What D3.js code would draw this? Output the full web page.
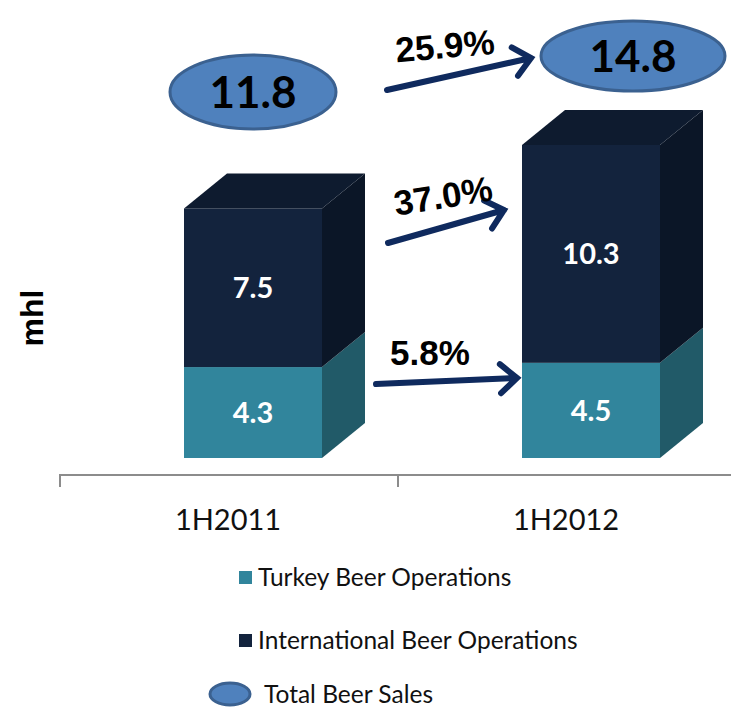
<!DOCTYPE html>
<html>
<head>
<meta charset="utf-8">
<script src="https://cdn.jsdelivr.net/npm/d3@7"></script>
<style>
  body { margin: 0; background: #fff; }
  svg { display: block; }
</style>
</head>
<body>
<div id="chart"></div>
<script>
// data
const categories = ['1H2011', '1H2012'];
const turkey = [4.3, 4.5];
const international = [7.5, 10.3];
const totals = [11.8, 14.8];
const growth = {turkey: '5.8%', international: '37.0%', total: '25.9%'};
const legendLabels = ['Turkey Beer Operations', 'International Beer Operations', 'Total Beer Sales'];

const W = 731, H = 709;
const svg = d3.select('#chart').append('svg')
  .attr('width', W)
  .attr('height', H);

const x = d3.scaleBand()
  .domain(categories)
  .range([60, 736])
  .paddingInner(0)
  .paddingOuter(0);

const y = d3.scaleLinear()
  .domain([0, 14.8])
  .range([458, 145]);

const frontW = 138;
const dx = 43, dy = -35; // 3D depth offset
const frontShift = -45;   // front face left edge relative to band centre

const colors = {
  turkey: {front: '#31859c', side: '#215a68', top: '#2a7386'},
  intl: {front: '#13233d', side: '#0b1627', top: '#0e1b2f'}
};

// axis
const axis = d3.axisBottom(x).tickSize(12).tickFormat('');
const gAxis = svg.append('g').attr('transform', 'translate(0,475)').call(axis);
gAxis.select('.domain').attr('stroke', '#8c8c8c').attr('stroke-width', 2)
  .attr('d', 'M60,12V0H736');
gAxis.selectAll('.tick line').attr('stroke', '#8c8c8c').attr('stroke-width', 2)
  .attr('transform', `translate(${-x.bandwidth() / 2},0)`);
// category labels
svg.append('g').selectAll('text')
  .data(categories)
  .join('text')
  .attr('x', d => x(d) + x.bandwidth() / 2 - 1)
  .attr('y', 530)
  .attr('text-anchor', 'middle')
  .attr('font-family', 'Lato, "Open Sans", sans-serif')
  .attr('font-size', 29)
  .attr('fill', '#111')
  .text(d => d);

// stacked 3D bars
const stack = categories.map((c, i) => ({
  cat: c,
  segs: [
    {key: 'turkey', y0: 0, y1: turkey[i], v: turkey[i]},
    {key: 'intl', y0: turkey[i], y1: turkey[i] + international[i], v: international[i]}
  ]
}));

const bars = svg.append('g').selectAll('g.bar')
  .data(stack)
  .join('g')
  .attr('class', 'bar');

bars.each(function(d) {
  const g = d3.select(this);
  const x0 = x(d.cat) + x.bandwidth() / 2 + frontShift;
  const x1 = x0 + frontW;
  d.segs.forEach((s, j) => {
    const c = colors[s.key];
    const yt = y(s.y1), yb = y(s.y0);
    // side face
    g.append('path')
      .attr('d', `M${x1},${yb}L${x1 + dx},${yb + dy}L${x1 + dx},${yt + dy}L${x1},${yt}Z`)
      .attr('fill', c.side);
    // front face
    g.append('rect')
      .attr('x', x0).attr('y', yt)
      .attr('width', frontW).attr('height', yb - yt)
      .attr('fill', c.front);
    if (j === d.segs.length - 1) {
      g.append('path')
        .attr('d', `M${x0},${yt}L${x1},${yt}L${x1 + dx},${yt + dy}L${x0 + dx},${yt + dy}Z`)
        .attr('fill', c.top);
    }
    g.append('text')
      .attr('x', x0 + frontW / 2)
      .attr('y', (yt + yb) / 2)
      .attr('dy', '0.36em')
      .attr('text-anchor', 'middle')
      .attr('font-family', 'Lato, "Open Sans", sans-serif')
      .attr('font-weight', 'bold')
      .attr('font-size', 29)
      .attr('fill', '#fff')
      .text(s.v.toFixed(1));
  });
});

// total ellipses
const ellPos = [{cx: 253, cy: 92, rx: 83, ry: 37}, {cx: 633, cy: 56, rx: 92, ry: 35}];
const ell = svg.append('g').selectAll('g')
  .data(totals)
  .join('g');
ell.append('ellipse')
  .attr('cx', (d, i) => ellPos[i].cx)
  .attr('cy', (d, i) => ellPos[i].cy)
  .attr('rx', (d, i) => ellPos[i].rx)
  .attr('ry', (d, i) => ellPos[i].ry)
  .attr('fill', '#4f81bd')
  .attr('stroke', '#3b6190')
  .attr('stroke-width', 3);
ell.append('text')
  .attr('x', (d, i) => ellPos[i].cx)
  .attr('y', (d, i) => ellPos[i].cy)
  .attr('dy', '0.36em')
  .attr('text-anchor', 'middle')
  .attr('font-family', 'Lato, "Open Sans", sans-serif')
  .attr('font-weight', 'bold')
  .attr('font-size', 44)
  .attr('fill', '#000')
  .text(d => d.toFixed(1));

// growth arrows
const arrows = [
  {label: growth.total, x1: 387, y1: 90, x2: 531, y2: 58, lx: 446, ly: 58, rot: -5},
  {label: growth.international, x1: 388, y1: 243, x2: 504, y2: 210, lx: 445, ly: 208, rot: -9},
  {label: growth.turkey, x1: 376, y1: 384, x2: 517, y2: 378, lx: 430, ly: 365, rot: 0}
];
const arrowColor = '#0f2a5e';
const ag = svg.append('g').selectAll('g')
  .data(arrows)
  .join('g');
ag.append('path')
  .attr('d', d => {
    const a = Math.atan2(d.y2 - d.y1, d.x2 - d.x1);
    const L = 22, spread = 0.72;
    const hx1 = d.x2 - L * Math.cos(a - spread), hy1 = d.y2 - L * Math.sin(a - spread);
    const hx2 = d.x2 - L * Math.cos(a + spread), hy2 = d.y2 - L * Math.sin(a + spread);
    return `M${d.x1},${d.y1}L${d.x2},${d.y2}M${hx1},${hy1}L${d.x2},${d.y2}L${hx2},${hy2}`;
  })
  .attr('fill', 'none')
  .attr('stroke', arrowColor)
  .attr('stroke-width', 6)
  .attr('stroke-linecap', 'round')
  .attr('stroke-linejoin', 'miter');
ag.append('text')
  .attr('transform', d => `translate(${d.lx},${d.ly}) rotate(${d.rot})`)
  .attr('text-anchor', 'middle')
  .attr('font-family', '"Liberation Sans", Arial, sans-serif')
  .attr('font-weight', 'bold')
  .attr('font-size', 35)
  .attr('fill', '#000')
  .text(d => d.label);

// y axis title
svg.append('text')
  .attr('transform', 'translate(43,318) rotate(-90)')
  .attr('text-anchor', 'middle')
  .attr('font-family', '"Liberation Sans", Arial, sans-serif')
  .attr('font-weight', 'bold')
  .attr('font-size', 32)
  .text('mhl');

// legend
const legend = svg.append('g');
const legY = [577, 640, 694];
legend.append('rect').attr('x', 239).attr('y', legY[0] - 6).attr('width', 13).attr('height', 13)
  .attr('fill', colors.turkey.front);
legend.append('rect').attr('x', 239).attr('y', legY[1] - 6).attr('width', 13).attr('height', 13)
  .attr('fill', colors.intl.front);
legend.append('ellipse').attr('cx', 230).attr('cy', legY[2]).attr('rx', 20).attr('ry', 11)
  .attr('fill', '#4f81bd').attr('stroke', '#3b6190').attr('stroke-width', 3);
legend.selectAll('text')
  .data(legendLabels)
  .join('text')
  .attr('x', (d, i) => i < 2 ? 258 : 264)
  .attr('y', (d, i) => legY[i])
  .attr('dy', '0.35em')
  .attr('font-family', 'Lato, "Open Sans", sans-serif')
  .attr('font-size', 24.5)
  .attr('fill', '#111')
  .text(d => d);
</script>
</body>
</html>
